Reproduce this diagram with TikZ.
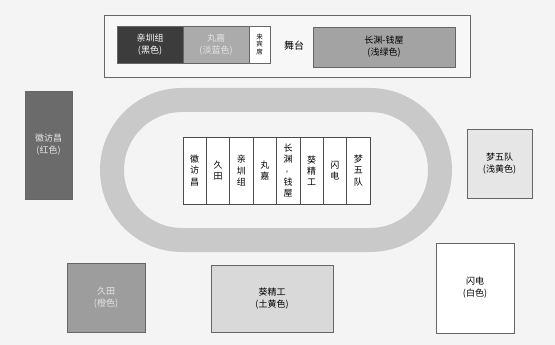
\documentclass[tikz,border=0pt]{standalone}
\usepackage{fontspec}
\setmainfont{Noto Sans CJK SC}
\begin{document}
\begin{tikzpicture}[x=1pt,y=-1pt,
  box/.style={draw=black!60,line width=0.8pt,inner sep=0pt,align=center,font=\fontsize{9}{12}\selectfont},
  col/.style={draw=black!70,line width=0.6pt,fill=white,inner sep=0pt,minimum width=23.375pt,minimum height=67pt,align=center,font=\fontsize{9}{11.2}\selectfont}]
\definecolor{bg}{HTML}{F4F4F4}
\definecolor{track}{HTML}{C9C9C9}
\definecolor{dark}{HTML}{3C3C3C}
\definecolor{midg}{HTML}{ABABAB}
\definecolor{green}{HTML}{A3A3A3}
\definecolor{red}{HTML}{6B6B6B}
\definecolor{lyel}{HTML}{E6E6E6}
\definecolor{orng}{HTML}{9D9D9D}
\definecolor{tuy}{HTML}{D9D9D9}
\fill[bg] (0,0) rectangle (555,345);
\useasboundingbox (0,0) rectangle (555,345);
% stage
\node[box,fill=white!97!black,minimum width=366pt,minimum height=62pt] (stage) at (287,46) {};
\node[box,fill=dark,text=white,minimum width=66pt,minimum height=37pt] (qz) at (150,44.5) {亲圳组\\(黑色)};
\node[box,fill=midg,text=white!90!black,minimum width=66pt,minimum height=37pt] (wj) at (216,44.5) {丸嘉\\(淡蓝色)};
\node[box,fill=white,minimum width=21pt,minimum height=37pt,font=\fontsize{6.5}{7.5}\selectfont] (lb) at (259.5,44.5) {来\\宾\\席};
\node[font=\fontsize{10}{12}\selectfont] (wt) at (294,46) {舞台};
\node[box,fill=green,minimum width=142pt,minimum height=40pt] (cq) at (384,47) {长渊-钱屋\\(浅绿色)};
% track
\draw[track,line width=24pt,rounded corners=70pt] (112,100) rectangle (440,240);
% columns
\node[col] (c1) at (194.69,170.5) {徽\\访\\昌};
\node[col] (c2) at (218.06,170.5) {久\\田};
\node[col] (c3) at (241.44,170.5) {亲\\圳\\组};
\node[col] (c4) at (264.81,170.5) {丸\\嘉};
\node[col] (c5) at (288.19,170.5) {长\\渊\\\rotatebox{90}{-}\\钱\\屋};
\node[col] (c6) at (311.56,170.5) {葵\\精\\工};
\node[col] (c7) at (334.94,170.5) {闪\\电};
\node[col] (c8) at (358.31,170.5) {梦\\五\\队};
% side boxes
\node[box,fill=red,text=white!90!black,minimum width=47pt,minimum height=108pt] (hf) at (48.5,145) {徽访昌\\(红色)};
\node[box,fill=lyel,minimum width=65pt,minimum height=69pt] (mw) at (499.5,163.5) {梦五队\\(浅黄色)};
\node[box,fill=orng,text=white!90!black,minimum width=78pt,minimum height=69pt] (jt) at (106,297.5) {久田\\(橙色)};
\node[box,fill=tuy,minimum width=122pt,minimum height=67pt] (kj) at (272,298.5) {葵精工\\(土黄色)};
\node[box,fill=white,minimum width=78pt,minimum height=90pt] (sd) at (475,288) {闪电\\(白色)};
\end{tikzpicture}
\end{document}
